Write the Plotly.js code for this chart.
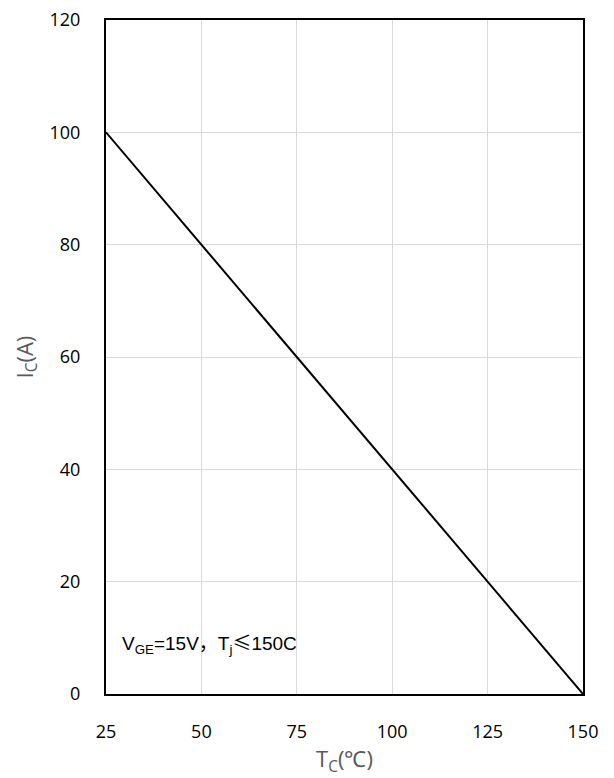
<!DOCTYPE html>
<html><head><meta charset="utf-8">
<script src="https://cdn.plot.ly/plotly-3.0.1.min.js"></script>
<style>body{margin:0;padding:0;background:#fff}</style>
</head><body>
<div id="chart" style="width:614px;height:778px"></div>
<script>
const tc = [25, 150];
const ic = [100, 0];
const xTicks = [25, 50, 75, 100, 125, 150];
const yTicks = [0, 20, 40, 60, 80, 100, 120];

const trace = {x: tc, y: ic, type: 'scatter', mode: 'lines', line: {color: '#000', width: 2}, hoverinfo: 'none'};
const layout = {
  width: 614, height: 778,
  margin: {l: 106, r: 31, t: 20, b: 84},
  paper_bgcolor: '#fff', plot_bgcolor: '#fff',
  showlegend: false,
  font: {family: '"Open Sans", sans-serif', size: 18, color: '#000'},
  xaxis: {
    range: [25, 150], tickvals: xTicks, ticktext: xTicks.map(String),
    showgrid: true, gridcolor: '#d9d9d9', gridwidth: 1,
    zeroline: false, showline: true, linecolor: '#000', linewidth: 2, mirror: true,
    ticks: '', ticklabelstandoff: 20,
    tickfont: {size: 18, color: '#000'},
    title: {text: 'T<sub>C</sub>(℃)', font: {size: 22, color: '#595959'}, standoff: 10}
  },
  yaxis: {
    range: [0, 120], tickvals: yTicks, ticktext: yTicks.map(String),
    showgrid: true, gridcolor: '#d9d9d9', gridwidth: 1,
    zeroline: false, showline: true, linecolor: '#000', linewidth: 2, mirror: true,
    ticks: '', ticklabelstandoff: 20,
    tickfont: {size: 18, color: '#000'},
    title: {text: 'I<sub>C</sub>(A)', font: {size: 22, color: '#595959'}, standoff: 10}
  },
  annotations: [{
    xref: 'paper', yref: 'paper', x: 0.03, y: 0.076, xanchor: 'left', yanchor: 'middle',
    text: 'V<sub>GE</sub>=15V<span style="font-family:\'Noto Sans CJK SC\'">，</span>T<sub>j</sub><span style="font-family:\'Noto Sans CJK SC\'">≤</span>150C', showarrow: false,
    font: {family: '"Liberation Sans", Arial, sans-serif', size: 19, color: '#000'}
  }]
};
Plotly.newPlot('chart', [trace], layout, {displayModeBar: false, staticPlot: true});
</script>
</body></html>
